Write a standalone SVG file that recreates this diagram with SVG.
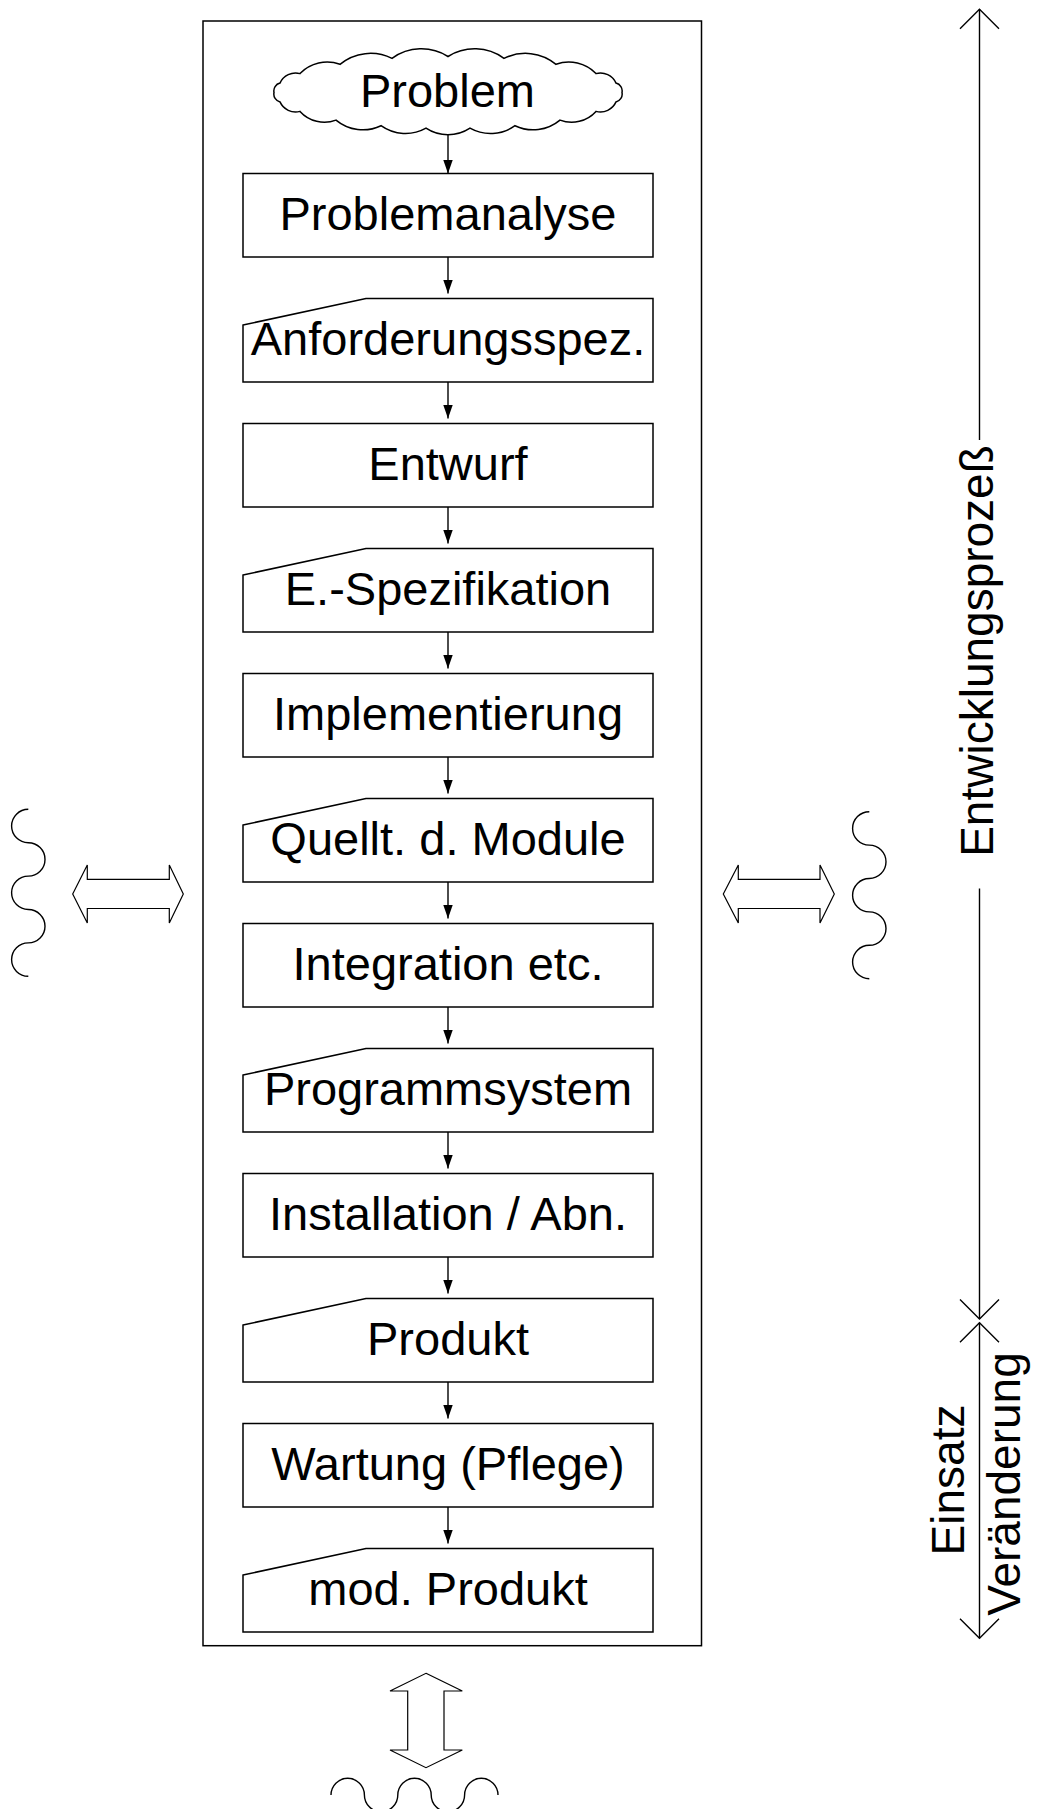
<svg xmlns="http://www.w3.org/2000/svg" width="1038" height="1809" viewBox="0 0 1038 1809">
<style>
.s{fill:#fff;stroke:#000;stroke-width:1.5}
.o{fill:none;stroke:#000;stroke-width:1.5}
.t{font-family:"Liberation Sans",Arial,sans-serif;font-size:47px;fill:#000;text-anchor:middle}
.r{font-size:46px}
.c{stroke:#000;stroke-width:1.4;fill:none}
</style>
<defs>
<marker id="ah" markerUnits="userSpaceOnUse" markerWidth="14" markerHeight="10" refX="13.5" refY="4.7" orient="auto">
<path d="M0,0 L13.5,4.7 L0,9.4 z" fill="#000"/>
</marker>
</defs>
<rect id="frame" x="203" y="21" width="498.5" height="1624.7" class="o"/>
<g id="n_problem">
<path class="s" d="M622,92.5 A8,8 0 0 1 616,101.9 A17,17 0 0 1 596,111.4 A33,33 0 0 1 560,120.1 A42,42 0 0 1 515,125.7 A42,42 0 0 1 470,128.2 A40,40 0 0 1 426,128.2 A42,42 0 0 1 381,125.7 A42,42 0 0 1 336,120.1 A33,33 0 0 1 300,111.4 A17,17 0 0 1 280,101.9 A8,8 0 0 1 274,92.5 A8,8 0 0 1 280,83.1 A17,17 0 0 1 300,73.6 A38,38 0 0 1 340,64.3 A48,48 0 0 1 392,58.4 A50,50 0 0 1 448,56.5 A50,50 0 0 1 504,58.4 A48,48 0 0 1 556,64.3 A38,38 0 0 1 596,73.6 A17,17 0 0 1 616,83.1 A8,8 0 0 1 622,92.5 Z"/>
<text class="t" x="447.5" y="106.5">Problem</text>
</g>
<g id="n0"><rect class="s" x="243" y="173.5" width="410" height="83.5"/><text class="t" x="448" y="229.5">Problemanalyse</text></g>
<g id="n1"><path class="s" d="M243,325 L366,298.5 L653,298.5 L653,382 L243,382 Z"/><text class="t" x="448" y="354.5">Anforderungsspez.</text></g>
<g id="n2"><rect class="s" x="243" y="423.5" width="410" height="83.5"/><text class="t" x="448" y="479.5">Entwurf</text></g>
<g id="n3"><path class="s" d="M243,575 L366,548.5 L653,548.5 L653,632 L243,632 Z"/><text class="t" x="448" y="604.5">E.-Spezifikation</text></g>
<g id="n4"><rect class="s" x="243" y="673.5" width="410" height="83.5"/><text class="t" x="448" y="729.5">Implementierung</text></g>
<g id="n5"><path class="s" d="M243,825 L366,798.5 L653,798.5 L653,882 L243,882 Z"/><text class="t" x="448" y="854.5">Quellt. d. Module</text></g>
<g id="n6"><rect class="s" x="243" y="923.5" width="410" height="83.5"/><text class="t" x="448" y="979.5">Integration etc.</text></g>
<g id="n7"><path class="s" d="M243,1075 L366,1048.5 L653,1048.5 L653,1132 L243,1132 Z"/><text class="t" x="448" y="1104.5">Programmsystem</text></g>
<g id="n8"><rect class="s" x="243" y="1173.5" width="410" height="83.5"/><text class="t" x="448" y="1229.5">Installation / Abn.</text></g>
<g id="n9"><path class="s" d="M243,1325 L366,1298.5 L653,1298.5 L653,1382 L243,1382 Z"/><text class="t" x="448" y="1354.5">Produkt</text></g>
<g id="n10"><rect class="s" x="243" y="1423.5" width="410" height="83.5"/><text class="t" x="448" y="1479.5">Wartung (Pflege)</text></g>
<g id="n11"><path class="s" d="M243,1575 L366,1548.5 L653,1548.5 L653,1632 L243,1632 Z"/><text class="t" x="448" y="1604.5">mod. Produkt</text></g>
<g id="connectors" class="c" marker-end="url(#ah)">
<line x1="448" y1="135" x2="448" y2="173.5"/>
<line x1="448" y1="257" x2="448" y2="293.5"/>
<line x1="448" y1="382" x2="448" y2="418.5"/>
<line x1="448" y1="507" x2="448" y2="543.5"/>
<line x1="448" y1="632" x2="448" y2="668.5"/>
<line x1="448" y1="757" x2="448" y2="793.5"/>
<line x1="448" y1="882" x2="448" y2="918.5"/>
<line x1="448" y1="1007" x2="448" y2="1043.5"/>
<line x1="448" y1="1132" x2="448" y2="1168.5"/>
<line x1="448" y1="1257" x2="448" y2="1293.5"/>
<line x1="448" y1="1382" x2="448" y2="1418.5"/>
<line x1="448" y1="1507" x2="448" y2="1543.5"/>
</g>
<g id="env_left">
<path class="c" d="M28.3,809.3 a16.7,16.7 0 0 0 0,33.4 a16.7,16.7 0 0 1 0,33.4 a16.7,16.7 0 0 0 0,33.4 a16.7,16.7 0 0 1 0,33.4 a16.7,16.7 0 0 0 0,33.4"/>
<polygon class="s" style="stroke-width:1.2" points="72.7,894 87.3,865 87.3,879.3 169.3,879.3 169.3,865 183.3,894 169.3,923 169.3,908.5 87.3,908.5 87.3,923"/>
</g>
<g id="env_right">
<path class="c" d="M869.3,811.7 a16.7,16.7 0 0 0 0,33.4 a16.7,16.7 0 0 1 0,33.4 a16.7,16.7 0 0 0 0,33.4 a16.7,16.7 0 0 1 0,33.4 a16.7,16.7 0 0 0 0,33.4"/>
<polygon class="s" style="stroke-width:1.2" points="723.3,894 738.3,865 738.3,879.3 820,879.3 820,865 834.3,894 820,923 820,908.5 738.3,908.5 738.3,923"/>
</g>
<g id="env_bottom">
<polygon class="s" style="stroke-width:1.2" points="426,1673.3 462.3,1691 444,1691 444,1750 462.3,1750 426,1767.7 390,1750 407.7,1750 407.7,1691 390,1691"/>
<path class="c" d="M331,1795 a16.7,16.7 0 0 1 33.4,0 a16.7,16.7 0 0 0 33.4,0 a16.7,16.7 0 0 1 33.4,0 a16.7,16.7 0 0 0 33.4,0 a16.7,16.7 0 0 1 33.4,0"/>
</g>
<g id="axis" class="c">
<line x1="979.5" y1="9.3" x2="979.5" y2="440"/>
<line x1="979.5" y1="888.5" x2="979.5" y2="1319"/>
<polyline points="960,28.8 979.5,9.3 999,28.8"/>
<polyline points="960,1299.5 979.5,1319 999,1299.5"/>
<line x1="979.5" y1="1322.7" x2="979.5" y2="1638.3"/>
<polyline points="960,1342.2 979.5,1322.7 999,1342.2"/>
<polyline points="960,1618.8 979.5,1638.3 999,1618.8"/>
</g>
<text class="t r" transform="translate(993,651) rotate(-90)">Entwicklungsprozeß</text>
<text class="t r" transform="translate(964,1480) rotate(-90)">Einsatz</text>
<text class="t r" transform="translate(1020,1484) rotate(-90)">Veränderung</text>
</svg>
